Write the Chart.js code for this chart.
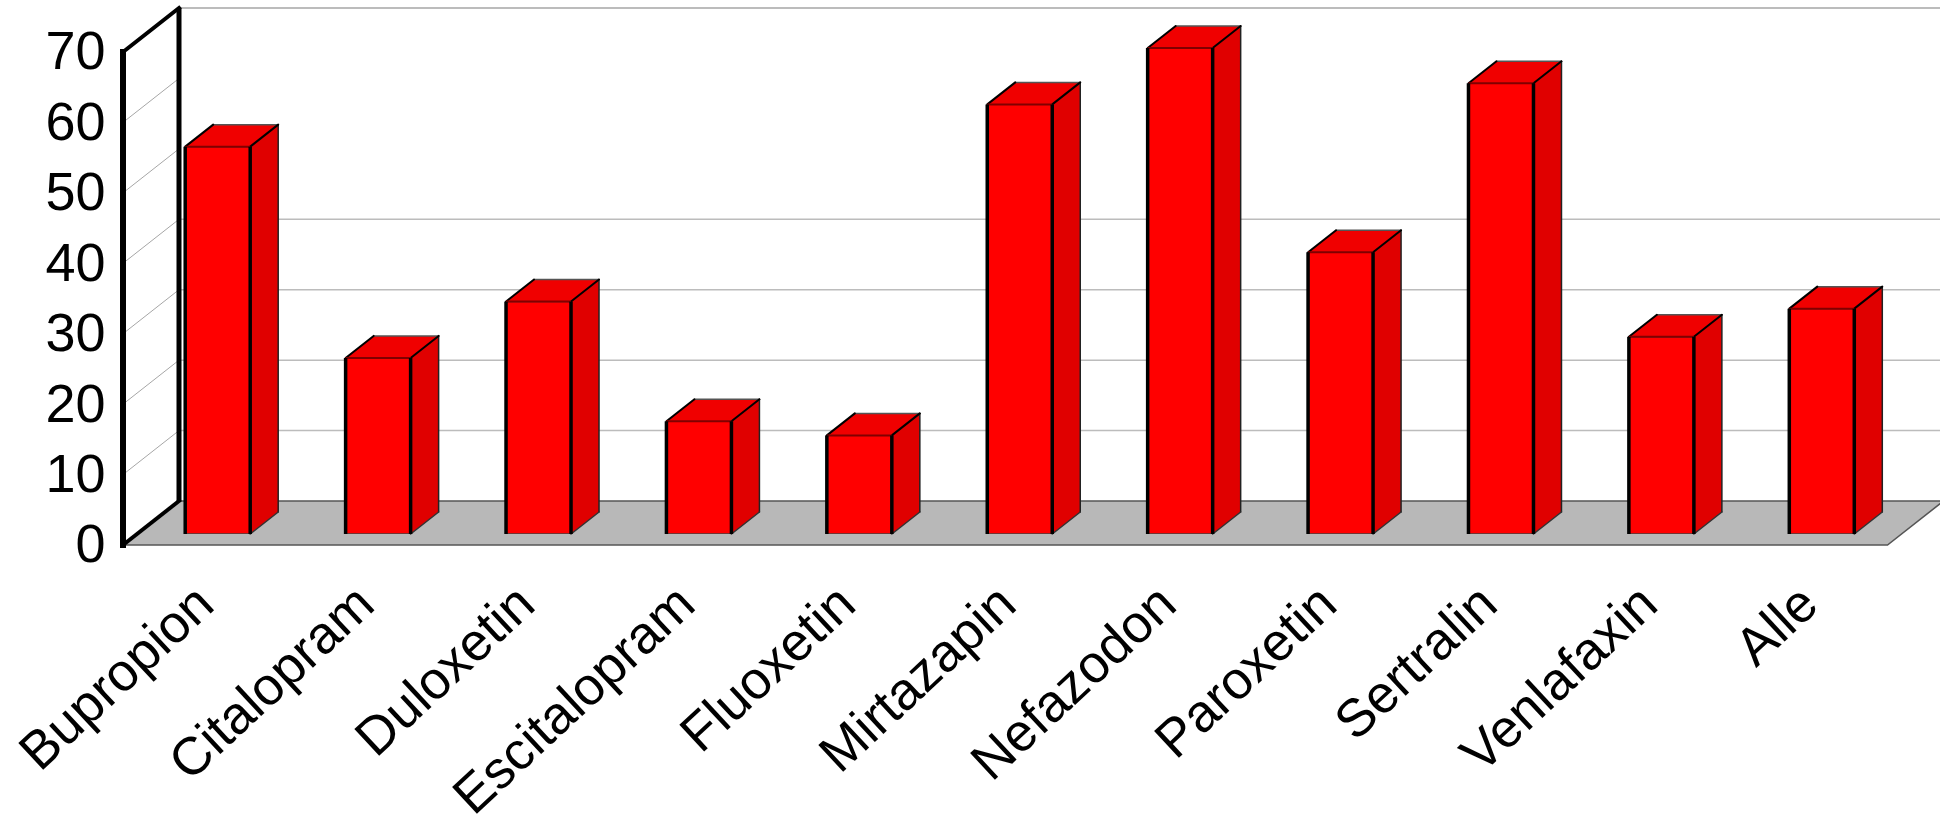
<!DOCTYPE html>
<html>
<head>
<meta charset="utf-8">
<script src="https://cdn.jsdelivr.net/npm/chart.js@4"></script>
<style>
  html, body { margin: 0; padding: 0; background: #fff; }
</style>
</head>
<body>
<canvas id="chart" width="1940" height="817"></canvas>
<script>
// Data
const drugs = ['Bupropion', 'Citalopram', 'Duloxetin', 'Escitalopram', 'Fluoxetin', 'Mirtazapin',
  'Nefazodon', 'Paroxetin', 'Sertralin', 'Venlafaxin', 'Alle'];
const percent = [55, 25, 33, 16, 14, 61, 69, 40, 64, 28, 32];
const yMax = 70;
const yStep = 10;
// the reference has no back wall line at 50 and 60
const backWallTicks = [10, 20, 30, 40, 70];

// ── 3D look ──────────────────────────────────────────────────
// the scales sit on the bars' front plane, walls and floor are offset from it
const front = { dx: -14.5, dy: 11 };    // front edge of the floor
const back = { dx: 41.5, dy: -33 };     // back wall
const barDepth = { dx: 28, dy: -22 };

function poly(ctx, pts, fill, stroke, width) {
  ctx.beginPath();
  pts.forEach((p, i) => i ? ctx.lineTo(p[0], p[1]) : ctx.moveTo(p[0], p[1]));
  ctx.closePath();
  if (fill) { ctx.fillStyle = fill; ctx.fill(); }
  if (stroke) { ctx.strokeStyle = stroke; ctx.lineWidth = width; ctx.stroke(); }
}

function line(ctx, x1, y1, x2, y2, color, width) {
  ctx.beginPath();
  ctx.moveTo(x1, y1);
  ctx.lineTo(x2, y2);
  ctx.strokeStyle = color;
  ctx.lineWidth = width;
  ctx.stroke();
}

const box3d = {
  id: 'box3d',
  beforeDatasetsDraw(chart) {
    const { ctx, chartArea: a, scales: { y } } = chart;
    const fl = a.left + front.dx, fr = a.right + front.dx;
    const bl = a.left + back.dx, br = a.right + back.dx;
    const zero = y.getPixelForValue(0);

    ctx.save();
    ctx.lineJoin = 'miter';
    // floor
    poly(ctx, [[fl, zero + front.dy], [fr, zero + front.dy], [br, zero + back.dy], [bl, zero + back.dy]],
      '#b8b8b8', '#555555', 1.5);

    // grid lines, side wall then back wall
    y.ticks.forEach(t => {
      if (t.value === 0) return;
      const py = y.getPixelForValue(t.value);
      line(ctx, fl, py + front.dy, bl, py + back.dy, '#a6a6a6', 1);
      if (backWallTicks.includes(t.value)) {
        const color = t.value === yMax ? '#a6a6a6' : '#bcbcbc';
        line(ctx, bl, py + back.dy, chart.width, py + back.dy, color, 1.5);
      }
    });

    // side wall frame
    const top = y.getPixelForValue(yMax);
    line(ctx, bl, top + back.dy, bl, zero + back.dy, '#000', 5);
    ctx.lineCap = 'square';
    line(ctx, fl, zero + front.dy, bl, zero + back.dy, '#000', 4);
    line(ctx, fl, top + front.dy, bl, top + back.dy, '#000', 4);
    line(ctx, fl, top + front.dy, fl, zero + front.dy, '#000', 6);
    ctx.restore();
  },
  afterDatasetsDraw(chart) {
    const { ctx } = chart;
    ctx.save();
    chart.getDatasetMeta(0).data.forEach(bar => {
      const left = bar.x - bar.width / 2;
      const right = bar.x + bar.width / 2;
      const top = bar.y;
      const bottom = bar.base;
      const d = barDepth;
      poly(ctx, [[left, top], [right, top], [right + d.dx, top + d.dy], [left + d.dx, top + d.dy]], '#f00000');
      poly(ctx, [[right, top], [right + d.dx, top + d.dy], [right + d.dx, bottom + d.dy], [right, bottom]], '#e00000');
      // edges
      ctx.lineCap = 'round';
      line(ctx, left + d.dx, top + d.dy, right + d.dx, top + d.dy, '#555', 1.5);
      line(ctx, right + d.dx, top + d.dy, right + d.dx, bottom + d.dy, '#222', 1.5);
      line(ctx, right, bottom, right + d.dx, bottom + d.dy, '#333', 1.5);
      line(ctx, left, top, left + d.dx, top + d.dy, '#000', 2);
      line(ctx, right, top, right + d.dx, top + d.dy, '#000', 2);
      ctx.lineCap = 'butt';
      line(ctx, left, top, right, top, '#800000', 2);
      line(ctx, right, top, right, bottom, '#000', 3.5);
      line(ctx, left, top, left, bottom, '#000', 3.5);
    });
    ctx.restore();
  }
};

// ── Chart ────────────────────────────────────────────────────
const fontFamily = '"Liberation Sans", Arial, sans-serif';

new Chart(document.getElementById('chart').getContext('2d'), {
  type: 'bar',
  data: {
    labels: drugs,
    datasets: [{
      data: percent,
      backgroundColor: '#ff0000',
      borderColor: '#444444',
      borderWidth: 1,
      borderSkipped: false,
      barThickness: 65,
    }]
  },
  options: {
    responsive: false,
    animation: false,
    layout: { padding: { top: 41, right: 38, left: 0, bottom: 0 } },
    plugins: { legend: { display: false }, tooltip: { enabled: false } },
    scales: {
      x: {
        grid: { display: false, drawTicks: false },
        border: { display: false },
        afterFit: s => { s.height = 283; s.paddingLeft = 0; s.paddingRight = 0; },
        ticks: {
          autoSkip: false,
          minRotation: 43,
          maxRotation: 43,
          padding: 40,
          labelOffset: -11,
          color: '#000',
          font: { family: fontFamily, size: 53 },
        },
      },
      y: {
        min: 0,
        max: yMax,
        afterFit: s => { s.width = 137.5; s.paddingTop = 0; s.paddingBottom = 0; },
        grid: { display: false, drawTicks: false },
        border: { display: false },
        ticks: {
          stepSize: yStep,
          padding: 32,
          labelOffset: 13.5,
          color: '#000',
          font: { family: fontFamily, size: 54 },
        },
      },
    },
  },
  plugins: [box3d],
});
</script>
</body>
</html>
